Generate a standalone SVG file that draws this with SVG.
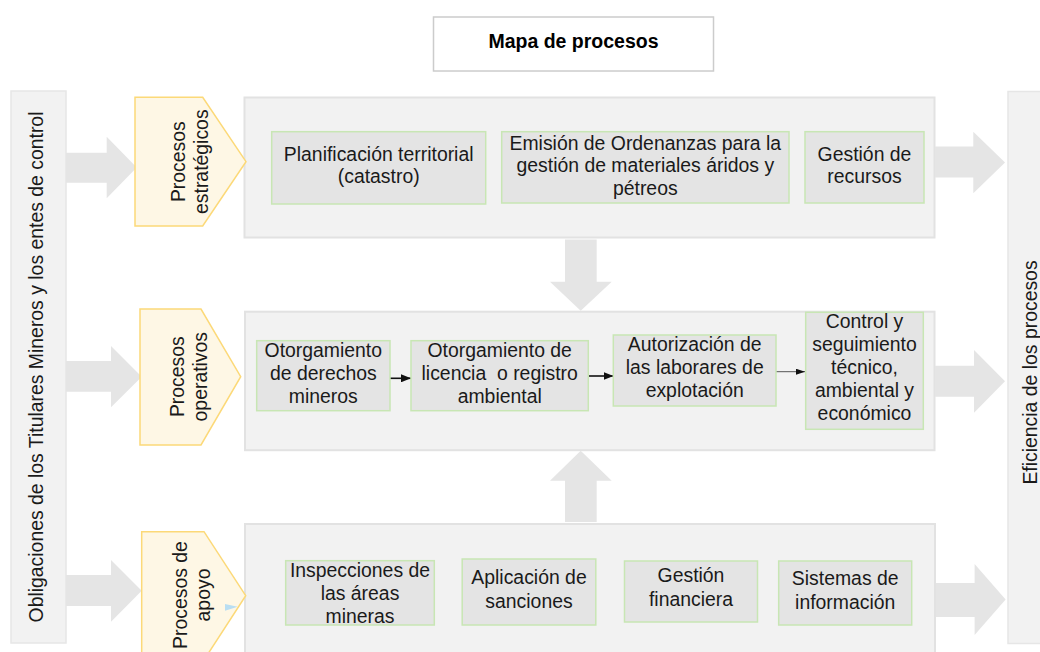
<svg xmlns="http://www.w3.org/2000/svg" width="1040" height="652" viewBox="0 0 1040 652">
<defs>
<style>
text{font-family:"Liberation Sans",Arial,sans-serif;font-size:19.4px;fill:#1a1a1a;text-anchor:middle}
.title{font-weight:bold;font-size:19.5px;fill:#000}
.panel{fill:#f2f2f2;stroke:#e2e2e2;stroke-width:2}
.side{fill:#f2f2f2;stroke:#e6e6e6;stroke-width:1.5}
.box{fill:#e4e4e4;stroke:#c8e6b4;stroke-width:1.5}
.pent{fill:#fef7e5;stroke:#fcd978;stroke-width:1.5}
.big{fill:#e5e5e5}
.ln{stroke:#111;stroke-width:1.6;fill:none}
.ln2{stroke:#555;stroke-width:1;fill:none}
</style>
<marker id="ah" markerWidth="10" markerHeight="8" refX="10" refY="4" orient="auto" markerUnits="userSpaceOnUse">
<path d="M0,0 L10,4 L0,8 Z" fill="#111"/>
</marker>
<marker id="ah2" markerWidth="9" markerHeight="6" refX="9" refY="3" orient="auto" markerUnits="userSpaceOnUse">
<path d="M0,0 L9,3 L0,6 Z" fill="#111"/>
</marker>
</defs>

<g id="title">
<rect x="433.5" y="17" width="280" height="54" fill="#fff" stroke="#cccccc" stroke-width="1.5"/>
<text class="title" x="573.5" y="47.5">Mapa de procesos</text>
</g>

<g id="obligaciones">
<rect class="side" x="11" y="91" width="55" height="552"/>
<text transform="translate(0,367) rotate(-90)" x="0" y="43.3">Obligaciones de los Titulares Mineros y los entes de control</text>
</g>

<g id="eficiencia">
<rect class="side" x="1008" y="91.5" width="55" height="552"/>
<text transform="translate(0,372.5) rotate(-90)" x="0" y="1036.5">Eficiencia de los procesos</text>
</g>

<g id="panel-estrategicos"><rect class="panel" x="244.5" y="97.5" width="690" height="140"/></g>
<g id="panel-operativos"><rect class="panel" x="245" y="311.7" width="689.5" height="138.5"/></g>
<g id="panel-apoyo"><rect class="panel" x="245" y="524" width="690" height="140"/></g>

<g id="connectors">
<polygon class="big" points="66,152.7 106.7,152.7 106.7,136.7 136.7,167.5 106.7,198.3 106.7,182.7 66,182.7"/>
<polygon class="big" points="66,361 111,361 111,346 141.7,376.7 111,407.3 111,391.7 66,391.7"/>
<polygon class="big" points="66,575 111,575 111,560 141.7,590.8 111,621.7 111,606 66,606"/>
<polygon class="big" points="935,146.5 973.3,146.5 973.3,131.7 1005,162.5 973.3,193.3 973.3,177.5 935,177.5"/>
<polygon class="big" points="935,365.7 974,365.7 974,350 1005,381.3 974,412.7 974,396.7 935,396.7"/>
<polygon class="big" points="936,583 974.6,583 974.6,564 1005.6,599.5 974.6,635 974.6,617 936,617"/>
<polygon class="big" points="565,239.5 596.7,239.5 596.7,281.7 611.7,281.7 580.7,310.7 550,281.7 565,281.7"/>
<polygon class="big" points="580.7,450.7 611.7,480.7 596.7,480.7 596.7,522 565,522 565,480.7 550,480.7"/>
<line class="ln" x1="390" y1="378.3" x2="411" y2="378.3" marker-end="url(#ah)"/>
<line class="ln" x1="588.5" y1="376" x2="613.5" y2="376" marker-end="url(#ah)"/>
<line class="ln2" x1="776" y1="371.7" x2="805" y2="371.7" marker-end="url(#ah2)"/>
</g>

<g id="procesos-estrategicos">
<polygon class="pent" points="135,97.3 202.7,97.3 246,161.7 202.7,226 135,226"/>
<text transform="translate(0,161.7) rotate(-90)"><tspan x="0" y="185">Procesos</tspan><tspan x="0" y="208">estratégicos</tspan></text>
</g>

<g id="procesos-operativos">
<polygon class="pent" points="140,309 201,309 240.7,376.7 201,445 140,445"/>
<text transform="translate(0,376.7) rotate(-90)"><tspan x="0" y="183.5">Procesos</tspan><tspan x="0" y="206.5">operativos</tspan></text>
</g>

<g id="procesos-apoyo">
<polygon class="pent" points="141.7,531.7 204,531.7 245.7,595.7 204,660 141.7,660"/>
<polygon points="225,604 237.7,606.7 225,610.7" fill="#b9def2"/>
<text transform="translate(0,595) rotate(-90)"><tspan x="0" y="186.7">Procesos de</tspan><tspan x="0" y="209.7">apoyo</tspan></text>
</g>

<g id="planificacion">
<rect class="box" x="271.7" y="131.7" width="214" height="72.3"/>
<text><tspan x="378.7" y="160.7">Planificación territorial</tspan><tspan x="378.7" y="183.4">(catastro)</tspan></text>
</g>
<g id="emision">
<rect class="box" x="501.7" y="131.7" width="287.3" height="71.3"/>
<text><tspan x="645.3" y="149.5">Emisión de Ordenanzas para la</tspan><tspan x="645.3" y="172">gestión de materiales áridos y</tspan><tspan x="645.3" y="194.5">pétreos</tspan></text>
</g>
<g id="gestion-recursos">
<rect class="box" x="805" y="131.7" width="119" height="71.3"/>
<text><tspan x="864.5" y="160.7">Gestión de</tspan><tspan x="864.5" y="182.7">recursos</tspan></text>
</g>

<g id="otorgamiento-derechos">
<rect class="box" x="256.7" y="340.7" width="133.3" height="70"/>
<text><tspan x="323.3" y="357.3">Otorgamiento</tspan><tspan x="323.3" y="380">de derechos</tspan><tspan x="323.3" y="402.7">mineros</tspan></text>
</g>
<g id="otorgamiento-licencia">
<rect class="box" x="411" y="340.7" width="177.3" height="70"/>
<text xml:space="preserve"><tspan x="499.7" y="357.3">Otorgamiento de</tspan><tspan x="499.7" y="380">licencia  o registro</tspan><tspan x="499.7" y="402.7">ambiental</tspan></text>
</g>
<g id="autorizacion">
<rect class="box" x="613.3" y="335" width="162.7" height="71"/>
<text><tspan x="694.7" y="351">Autorización de</tspan><tspan x="694.7" y="374">las laborares de</tspan><tspan x="694.7" y="396.7">explotación</tspan></text>
</g>
<g id="control">
<rect class="box" x="805.7" y="312.3" width="117.6" height="117"/>
<text><tspan x="864.5" y="328.3">Control y</tspan><tspan x="864.5" y="351">seguimiento</tspan><tspan x="864.5" y="374">técnico,</tspan><tspan x="864.5" y="397">ambiental y</tspan><tspan x="864.5" y="420">económico</tspan></text>
</g>

<g id="inspecciones">
<rect class="box" x="285.7" y="560.7" width="148.6" height="64.3"/>
<text><tspan x="360" y="577.3">Inspecciones de</tspan><tspan x="360" y="600">las áreas</tspan><tspan x="360" y="622.7">mineras</tspan></text>
</g>
<g id="aplicacion">
<rect class="box" x="462.2" y="559" width="133.6" height="66"/>
<text><tspan x="529" y="584">Aplicación de</tspan><tspan x="529" y="608">sanciones</tspan></text>
</g>
<g id="gestion-financiera">
<rect class="box" x="624.5" y="561" width="133" height="61"/>
<text><tspan x="691" y="582">Gestión</tspan><tspan x="691" y="606">financiera</tspan></text>
</g>
<g id="sistemas">
<rect class="box" x="778.7" y="561" width="133" height="64"/>
<text><tspan x="845.2" y="585">Sistemas de</tspan><tspan x="845.2" y="609">información</tspan></text>
</g>
</svg>
